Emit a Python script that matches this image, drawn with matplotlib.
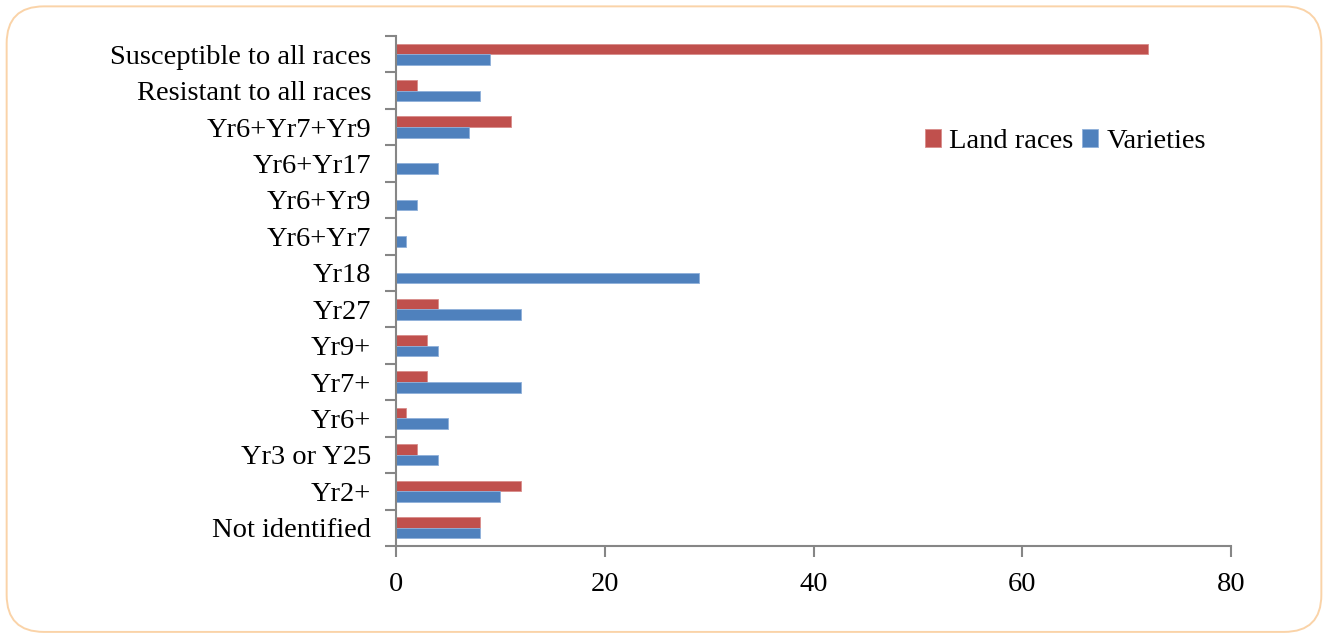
import matplotlib
matplotlib.use("Agg")
import matplotlib.pyplot as plt
from matplotlib.patches import FancyBboxPatch
import numpy as np

categories = [
    "Not identified", "Yr2+", "Yr3 or Y25", "Yr6+", "Yr7+", "Yr9+", "Yr27",
    "Yr18", "Yr6+Yr7", "Yr6+Yr9", "Yr6+Yr17", "Yr6+Yr7+Yr9",
    "Resistant to all races", "Susceptible to all races",
]
land_races = [8, 12, 2, 1, 3, 3, 4, 0, 0, 0, 0, 11, 2, 72]
varieties = [8, 10, 4, 5, 12, 4, 12, 29, 1, 2, 4, 7, 8, 9]
x_ticks = [0, 20, 40, 60, 80]

RED = "#C0504D"
BLUE = "#4F81BD"
AXIS = "#868686"

plt.rcParams["font.family"] = ["Liberation Serif", "DejaVu Serif"]

fig = plt.figure(figsize=(13.28, 6.37), dpi=100)
ax = fig.add_axes([0.2982, 0.1429, 0.6288, 0.8006])

y = np.arange(len(categories))
h = 0.29
ax.barh(y + h / 2, land_races, h, color=RED, edgecolor="#D98C8A", linewidth=0.6,
        label="Land races")
ax.barh(y - h / 2, varieties, h, color=BLUE, edgecolor="#8FB0DA", linewidth=0.6,
        label="Varieties")

ax.set_xlim(0, 80)
ax.set_ylim(-0.5, len(categories) - 0.5)
ax.set_xticks(x_ticks)
ax.set_yticks(y)
ax.set_yticklabels(categories)
ax.set_yticks(np.arange(len(categories) + 1) - 0.5, minor=True)
ax.tick_params(axis="y", which="major", length=0, pad=18, labelsize=20.5)
ax.tick_params(axis="y", which="minor", length=8, width=1.5, color=AXIS, direction="out")
ax.tick_params(axis="x", which="major", length=8, width=1.5, color=AXIS,
               direction="out", pad=11, labelsize=20.5)

for side in ("top", "right"):
    ax.spines[side].set_visible(False)
for side in ("left", "bottom"):
    ax.spines[side].set_color(AXIS)
    ax.spines[side].set_linewidth(1.5)

ax.legend(loc="center left", bbox_to_anchor=(0.62, 0.793), ncol=2, frameon=False,
          fontsize=20.5, handlelength=0.55, handleheight=0.55, handletextpad=0.3,
          columnspacing=0.3, borderaxespad=0)

border = FancyBboxPatch((0.005, 0.008), 0.99, 0.982,
                        boxstyle="round,pad=0,rounding_size=0.028",
                        transform=fig.transFigure, fill=False,
                        edgecolor="#FAD3A8", linewidth=1.4, mutation_aspect=2.08)
fig.patches.append(border)

fig.savefig("out.png", dpi=100)
